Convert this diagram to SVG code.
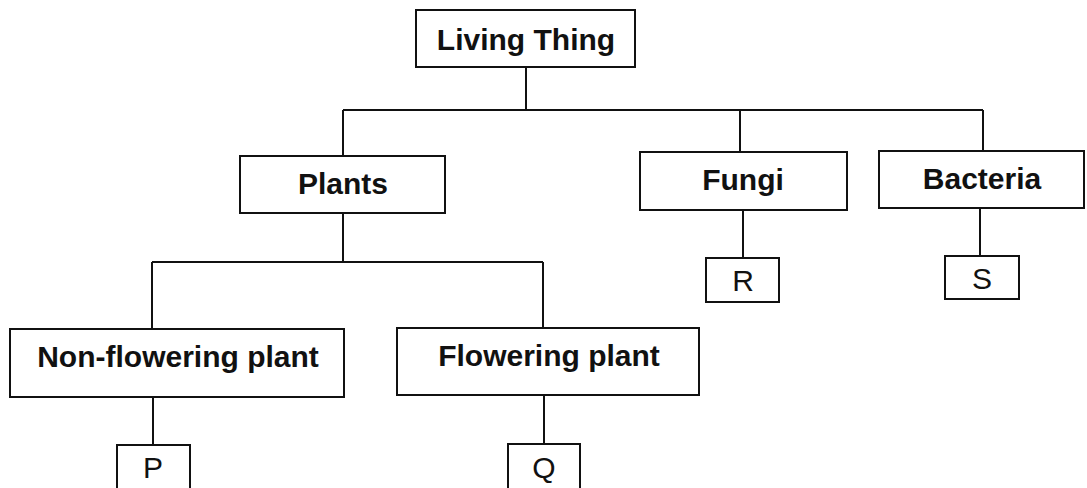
<svg xmlns="http://www.w3.org/2000/svg" width="1087" height="488" viewBox="0 0 1087 488">
<style>
.box{fill:#fff;stroke:#111;stroke-width:2}
.lbl{font-family:"Liberation Sans",Arial,sans-serif;font-size:30px;font-weight:bold;fill:#111;text-anchor:middle}
.let{font-family:"Liberation Sans",Arial,sans-serif;font-size:30px;fill:#111;text-anchor:middle}
.con{fill:none;stroke:#111;stroke-width:2}
</style>
<rect width="1087" height="488" fill="#fff"/>
<g id="connectors" class="con">
<path d="M526 67V110M343 110H983M343 110V156M740 110V152M983 110V151"/>
<path d="M343 213V262M152 262H543M152 262V329M543 262V328"/>
<path d="M153 397V445M544 395V444M743 210V258M980 208V256"/>
</g>
<g id="living"><rect class="box" x="416" y="10" width="219" height="57"/><text class="lbl" x="526" y="50">Living Thing</text></g>
<g id="plants"><rect class="box" x="240" y="156" width="205" height="57"/><text class="lbl" x="343" y="194">Plants</text></g>
<g id="fungi"><rect class="box" x="640" y="152" width="207" height="58"/><text class="lbl" x="743" y="190">Fungi</text></g>
<g id="bacteria"><rect class="box" x="879" y="151" width="205" height="57"/><text class="lbl" x="982" y="189">Bacteria</text></g>
<g id="nonflowering"><rect class="box" x="10" y="329" width="334" height="68"/><text class="lbl" x="178" y="367">Non-flowering plant</text></g>
<g id="flowering"><rect class="box" x="397" y="328" width="302" height="67"/><text class="lbl" x="549" y="366">Flowering plant</text></g>
<g id="p"><rect class="box" x="117" y="445" width="73" height="50"/><text class="let" x="153" y="478">P</text></g>
<g id="q"><rect class="box" x="508" y="444" width="72" height="50"/><text class="let" x="544" y="478">Q</text></g>
<g id="r"><rect class="box" x="706" y="258" width="73" height="44"/><text class="let" x="743" y="291">R</text></g>
<g id="s"><rect class="box" x="945" y="256" width="74" height="43"/><text class="let" x="982" y="289">S</text></g>
</svg>
